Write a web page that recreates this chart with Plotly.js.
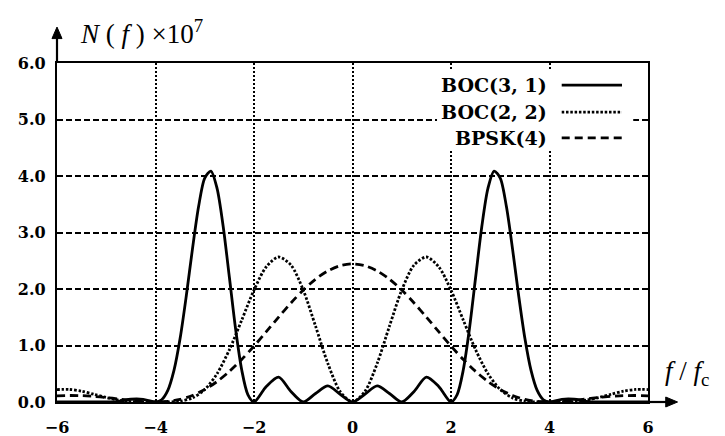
<!DOCTYPE html>
<html>
<head>
<meta charset="utf-8">
<script src="https://cdn.plot.ly/plotly-3.0.1.min.js"></script>
<style>html,body{margin:0;padding:0;background:#fff;}#chart{width:725px;height:436px;}</style>
</head>
<body>
<div id="chart"></div>
<script>
// Frequency grid (f/fc)
const xStd = [-6,-5.75,-5.5,-5.25,-5,-4.75,-4.5,-4.25,-4,-3.75,-3.5,-3.25,-3,-2.75,-2.5,-2.25,-2,-1.75,-1.5,-1.25,-1,-0.75,-0.5,-0.25,0,
              0.25,0.5,0.75,1,1.25,1.5,1.75,2,2.25,2.5,2.75,3,3.25,3.5,3.75,4,4.25,4.5,4.75,5,5.25,5.5,5.75,6];
const xBoc31 = [-6,-5.75,-5.5,-5.25,-5,-4.75,-4.5,-4.25,-4,-3.875,-3.75,-3.625,-3.5,-3.375,-3.25,-3.125,-3,-2.875,-2.75,-2.625,-2.5,-2.375,-2.25,-2.125,-2,
                -1.75,-1.5,-1.25,-1,-0.75,-0.5,-0.25,0,0.25,0.5,0.75,1,1.25,1.5,1.75,
                2,2.125,2.25,2.375,2.5,2.625,2.75,2.875,3,3.125,3.25,3.375,3.5,3.625,3.75,3.875,4,4.25,4.5,4.75,5,5.25,5.5,5.75,6];

// N(f) x 1e7
const boc31 = [0,0,0.002,0.003,0,0.013,0.049,0.047,0,0.040,0.205,0.559,1.127,1.877,2.706,3.459,3.964,4.087,3.780,3.102,2.208,1.301,0.570,0.132,0,
               0.275,0.440,0.187,0,0.151,0.285,0.137,0,0.137,0.285,0.151,0,0.187,0.440,0.275,
               0,0.132,0.570,1.301,2.208,3.102,3.780,4.087,3.964,3.459,2.706,1.877,1.127,0.559,0.205,0.040,0,0.047,0.049,0.013,0,0.003,0.002,0,0];
const boc22 = [0.220,0.222,0.191,0.137,0.079,0.034,0.008,0.001,0,0.001,0.014,0.072,0.220,0.501,0.924,1.448,1.981,2.394,2.566,2.424,1.981,1.342,0.680,0.184,0,
               0.184,0.680,1.342,1.981,2.424,2.566,2.394,1.981,1.448,0.924,0.501,0.220,0.072,0.014,0.001,0,0.001,0.008,0.034,0.079,0.137,0.191,0.222,0.220];
const bpsk4 = [0.110,0.115,0.112,0.099,0.079,0.054,0.029,0.008,0,0.011,0.047,0.116,0.220,0.362,0.541,0.753,0.990,1.244,1.503,1.753,1.981,2.174,2.321,2.413,2.444,
               2.413,2.321,2.174,1.981,1.753,1.503,1.244,0.990,0.753,0.541,0.362,0.220,0.116,0.047,0.011,0,0.008,0.029,0.054,0.079,0.099,0.112,0.115,0.110];

const seriesNames = ['BOC(3, 1)', 'BOC(2, 2)', 'BPSK(4)'];
const xTicks = [-6,-4,-2,0,2,4,6];
const yTicks = [0,1,2,3,4,5,6];

const serif = 'DejaVu Serif, serif';
const tickFont = {family: serif, size: 16, weight: 'bold', color: '#000'};

const dotDash = '2.5px,1.8px';
const longDash = '8px,5px';

const traces = [
  {x: xBoc31, y: boc31, name: seriesNames[0], mode: 'lines', line: {color: '#000', width: 2.8, shape: 'spline', smoothing: 0.8}},
  {x: xStd, y: boc22, name: seriesNames[1], mode: 'lines', line: {color: '#000', width: 2.8, dash: dotDash, shape: 'spline', smoothing: 0.8}},
  {x: xStd, y: bpsk4, name: seriesNames[2], mode: 'lines', line: {color: '#000', width: 2.8, dash: longDash, shape: 'spline', smoothing: 0.8}}
];

const legY = [0.935, 0.855, 0.779];
const legDash = ['solid', dotDash, longDash];
const legW = [2.8, 2.8, 2.8];

const shapes = [
  {type: 'rect', xref: 'paper', yref: 'paper', x0: 0.643, x1: 0.975, y0: 0.743, y1: 0.979, fillcolor: '#fff', line: {width: 0}, layer: 'above'},
  // axis arrows
  {type: 'line', xref: 'paper', yref: 'paper', x0: 0, x1: 0, y0: 1, y1: 1.09, line: {color: '#000', width: 2.2}},
  {type: 'path', xref: 'paper', yref: 'paper', path: 'M -0.0085,1.072 L 0,1.106 L 0.0085,1.072 Z', fillcolor: '#000', line: {color: '#000', width: 1}},
  {type: 'line', xref: 'paper', yref: 'paper', x0: 1, x1: 1.035, y0: 0, y1: 0, line: {color: '#000', width: 2.2}},
  {type: 'path', xref: 'paper', yref: 'paper', path: 'M 1.030,-0.0147 L 1.050,0 L 1.030,0.0147 Z', fillcolor: '#000', line: {color: '#000', width: 1}}
];
seriesNames.forEach((n, i) => {
  shapes.push({type: 'line', xref: 'paper', yref: 'paper', x0: 0.854, x1: 0.956, y0: legY[i], y1: legY[i],
               line: {color: '#000', width: legW[i], dash: legDash[i]}, layer: 'above'});
});

const annotations = [
  {xref: 'paper', yref: 'paper', x: 0.035, y: 1.09, xanchor: 'left', yanchor: 'middle', showarrow: false,
   text: '<i>N</i> ( <i>f</i> ) ×10<sup>7</sup>', font: {family: 'Liberation Serif, serif', size: 27, color: '#000'}},
  {xref: 'paper', yref: 'paper', x: 1.026, y: 0.085, xanchor: 'left', yanchor: 'middle', showarrow: false,
   text: '<i>f</i> / <i>f</i><sub>c</sub>', font: {family: 'Liberation Serif, serif', size: 27, color: '#000'}}
];
seriesNames.forEach((n, i) => {
  annotations.push({xref: 'paper', yref: 'paper', x: 0.833, y: legY[i], xanchor: 'right', yanchor: 'middle', showarrow: false,
    text: n, font: {family: serif, size: 19, weight: 'bold', color: '#000'}});
});

const layout = {
  width: 725, height: 436,
  margin: {l: 57, r: 77, t: 63, b: 34, pad: 0},
  paper_bgcolor: '#fff', plot_bgcolor: '#fff',
  showlegend: false,
  xaxis: {range: [-6, 6], tickvals: xTicks, ticks: '', showgrid: true, griddash: '2px,2px', gridcolor: '#000', gridwidth: 2,
          zeroline: false, showline: true, mirror: true, linecolor: '#000', linewidth: 2.2,
          tickfont: tickFont, ticklabelstandoff: 10},
  yaxis: {range: [0, 6], tickvals: yTicks, tickformat: '.1f', ticks: '', showgrid: true, griddash: '6px,3px', gridcolor: '#000', gridwidth: 2,
          zeroline: false, showline: true, mirror: true, linecolor: '#000', linewidth: 2.2,
          tickfont: tickFont, ticklabelstandoff: 6},
  shapes: shapes,
  annotations: annotations
};

Plotly.newPlot('chart', traces, layout, {displayModeBar: false, staticPlot: true});
</script>
</body>
</html>
